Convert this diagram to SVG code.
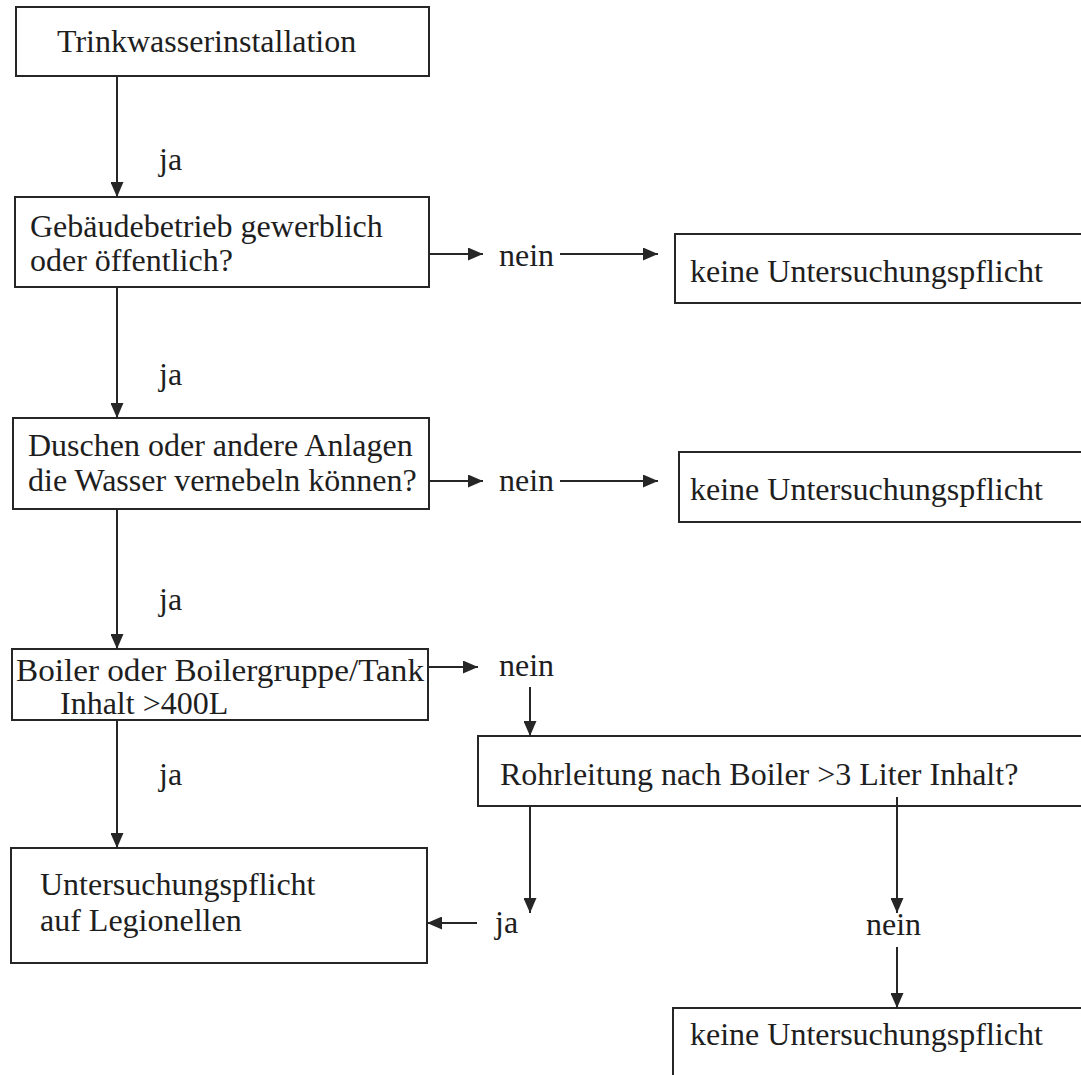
<svg xmlns="http://www.w3.org/2000/svg" width="1081" height="1075" viewBox="0 0 1081 1075">
<defs>
<marker id="ah" viewBox="0 0 15 13" refX="15" refY="6.5" markerWidth="15" markerHeight="13" markerUnits="userSpaceOnUse" orient="auto">
<path d="M0,0 L15,6.5 L0,13 Z" fill="#262626"/>
</marker>
<style>
.box{fill:#fff;stroke:#262626;stroke-width:2}
.t{font-family:'Liberation Serif',serif;font-size:32px;fill:#1e1e1e}
.c line{stroke:#262626;stroke-width:2;marker-end:url(#ah)}
</style>
</defs>
<rect width="1081" height="1075" fill="#fff"/>
<g id="n1"><rect class="box" x="16" y="7" width="413" height="69"/><text class="t" x="57" y="52">Trinkwasserinstallation</text></g>
<g id="n2"><rect class="box" x="15" y="197" width="414" height="90"/><text class="t" x="30" y="237">Gebäudebetrieb gewerblich</text><text class="t" x="30" y="271">oder öffentlich?</text></g>
<g id="n3"><rect class="box" x="675" y="234" width="410" height="69"/><text class="t" x="690" y="282">keine Untersuchungspflicht</text></g>
<g id="n4"><rect class="box" x="13" y="418" width="416" height="91"/><text class="t" x="28" y="456">Duschen oder andere Anlagen</text><text class="t" x="28" y="491">die Wasser vernebeln können?</text></g>
<g id="n5"><rect class="box" x="679" y="452" width="406" height="70"/><text class="t" x="690" y="500">keine Untersuchungspflicht</text></g>
<g id="n6"><rect class="box" x="12" y="649" width="416" height="71"/><text class="t" x="16" y="681" textLength="408" lengthAdjust="spacingAndGlyphs">Boiler oder Boilergruppe/Tank</text><text class="t" x="60" y="714">Inhalt &gt;400L</text></g>
<g id="n7"><rect class="box" x="478" y="736" width="607" height="70"/><text class="t" x="500" y="785">Rohrleitung nach Boiler &gt;3 Liter Inhalt?</text></g>
<g id="n8"><rect class="box" x="11" y="848" width="416" height="115"/><text class="t" x="40" y="895">Untersuchungspflicht</text><text class="t" x="40" y="931">auf Legionellen</text></g>
<g id="n9"><rect class="box" x="673" y="1008" width="412" height="80"/><text class="t" x="690" y="1045">keine Untersuchungspflicht</text></g>
<g id="labels">
<text class="t" x="159" y="170">ja</text>
<text class="t" x="499" y="266">nein</text>
<text class="t" x="159" y="385">ja</text>
<text class="t" x="499" y="491">nein</text>
<text class="t" x="159" y="610">ja</text>
<text class="t" x="499" y="676">nein</text>
<text class="t" x="159" y="785">ja</text>
<text class="t" x="495" y="933">ja</text>
<text class="t" x="866" y="935">nein</text>
</g>
<g id="connectors" class="c">
<line x1="117" y1="76" x2="117" y2="197"/>
<line x1="429" y1="254" x2="483" y2="254"/>
<line x1="560" y1="254" x2="658" y2="254"/>
<line x1="117" y1="287" x2="117" y2="418"/>
<line x1="429" y1="481" x2="483" y2="481"/>
<line x1="560" y1="481" x2="658" y2="481"/>
<line x1="117" y1="509" x2="117" y2="649"/>
<line x1="428" y1="667" x2="478" y2="667"/>
<line x1="530" y1="687" x2="530" y2="736"/>
<line x1="117" y1="720" x2="117" y2="848"/>
<line x1="530" y1="806" x2="530" y2="913"/>
<line x1="477" y1="923" x2="427" y2="923"/>
<line x1="897" y1="797" x2="897" y2="913"/>
<line x1="897" y1="947" x2="897" y2="1008"/>
</g>
</svg>
